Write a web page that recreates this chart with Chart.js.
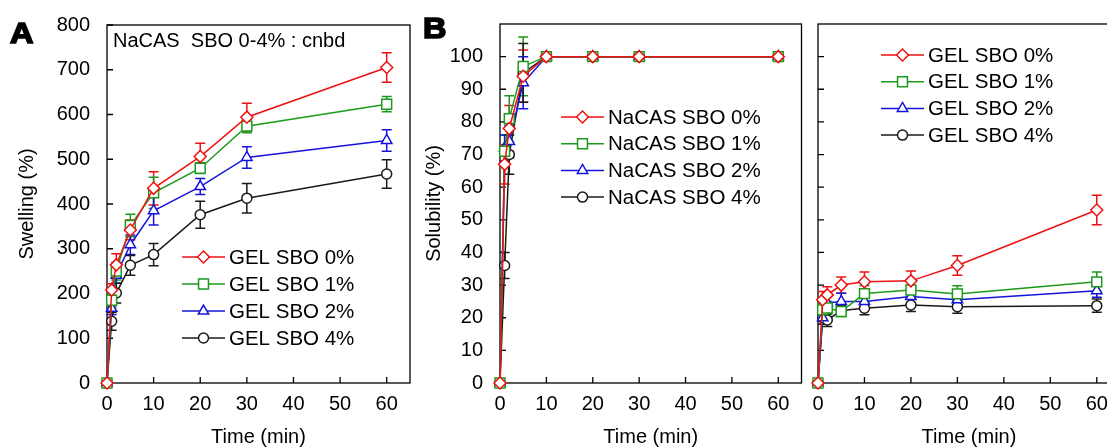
<!DOCTYPE html>
<html>
<head>
<meta charset="utf-8">
<script src="https://cdn.jsdelivr.net/npm/chart.js@4.4.0/dist/chart.umd.min.js"></script>
<style>
    html, body { margin: 0; padding: 0; background: #fff; }
    #page { position: relative; width: 1107px; height: 447px; overflow: hidden; background: #fff; font-family: 'Liberation Sans', Arial, sans-serif; }
    #page canvas { position: absolute; top: 0; }
    .panel-tag { position: absolute; font-weight: bold; font-size: 29px; line-height: 29px; color: #000; transform: scaleX(1.12); transform-origin: left top; -webkit-text-stroke: 1.6px #000; }
    .note { position: absolute; font-size: 20px; line-height: 22px; color: #000; white-space: pre; }
</style>
</head>
<body>
<div id="page">
    <canvas id="swellingChart" width="420" height="447" style="left:0"></canvas>
    <canvas id="nacasChart" width="400" height="447" style="left:410px"></canvas>
    <canvas id="gelChart" width="330" height="447" style="left:805px"></canvas>
    <div class="panel-tag" style="left:10px;top:19px">A</div>
    <div class="panel-tag" style="left:423px;top:14px">B</div>
    <div class="note" style="left:113px;top:29px">NaCAS  SBO 0-4% : cnbd</div>
</div>
<script>

// sampling times (min)
const times = [0, 1, 2, 5, 10, 20, 30, 60];

const gelLabels = ['GEL SBO 0%', 'GEL SBO 1%', 'GEL SBO 2%', 'GEL SBO 4%'];
const nacasLabels = ['NaCAS SBO 0%', 'NaCAS SBO 1%', 'NaCAS SBO 2%', 'NaCAS SBO 4%'];

// panel A - swelling of GEL films (%)
const swelling0 = [0, 208, 264, 342, 435, 506, 594, 705];
const swelling1 = [0, 185, 250, 352, 425, 480, 574, 623];
const swelling2 = [0, 167, 241, 309, 385, 439, 504, 542];
const swelling4 = [0, 138, 201, 263, 287, 376, 413, 467];
const swellingErr0 = [0, 14, 25, 22, 37, 30, 31, 33];
const swellingErr1 = [0, 15, 20, 25, 35, 12, 15, 17];
const swellingErr2 = [0, 14, 18, 22, 32, 18, 24, 24];
const swellingErr4 = [0, 20, 22, 22, 25, 30, 33, 32];

// panel B - solubility of NaCAS films (%)
const nacas0 = [0, 67, 78, 94, 100, 100, 100, 100];
const nacas1 = [0, 71, 81, 97, 100, 100, 100, 100];
const nacas2 = [0, 72, 74, 92, 100, 100, 100, 100];
const nacas4 = [0, 36, 70, 95, 100, 100, 100, 100];
const nacasErr0 = [0, 6, 7, 8, 0, 0, 0, 0];
const nacasErr1 = [0, 5, 7, 9, 0, 0, 0, 0];
const nacasErr2 = [0, 4, 5, 8, 0, 0, 0, 0];
const nacasErr4 = [0, 4, 6, 9, 0, 0, 0, 0];

// panel B (right) - solubility of GEL films (%)
const gel0 = [0, 25.5, 27, 30, 31, 31.3, 36, 53];
const gel1 = [0, 22.4, 23, 21.9, 27.4, 28.5, 27.3, 31];
const gel2 = [0, 20, 24.5, 25, 25, 26.5, 25.5, 28.3];
const gel4 = [0, 20, 19.3, 22.2, 22.9, 23.9, 23.4, 23.7];
const gelErr0 = [0, 2.5, 2.5, 2.5, 3, 3, 3, 4.5];
const gelErr1 = [0, 2, 2, 1.5, 2.5, 2.5, 2.5, 3];
const gelErr2 = [0, 2, 2, 2.5, 2, 2, 2, 2];
const gelErr4 = [0, 2, 2, 1.5, 2, 2, 2, 2];

const FONT = "'Liberation Sans', Arial, sans-serif";

const seriesStyle = [
    { color: '#ee1111', pointStyle: 'rectRot', radius: 6 },
    { color: '#1c9a1c', pointStyle: 'rect', radius: 7 },
    { color: '#1414dc', pointStyle: 'triangle', radius: 6 },
    { color: '#1a1a1a', pointStyle: 'circle', radius: 5 }
];

const charts = {
    swelling: null,
    nacas: null,
    gel: null
};


// box around the plot and inward tick marks
const framePlugin = {
    id: 'frame',
    beforeDatasetsDraw(chart) {
        const { ctx, chartArea: a, scales } = chart;
        ctx.save();
        ctx.strokeStyle = '#000';
        ctx.lineWidth = 1.3;
        ctx.strokeRect(a.left, a.top, a.right - a.left, a.bottom - a.top);
        ctx.beginPath();
        scales.x.ticks.forEach(t => {
            const px = scales.x.getPixelForValue(t.value);
            ctx.moveTo(px, a.bottom);
            ctx.lineTo(px, a.bottom - 6);
        });
        scales.y.ticks.forEach(t => {
            const py = scales.y.getPixelForValue(t.value);
            ctx.moveTo(a.left, py);
            ctx.lineTo(a.left + 6, py);
        });
        ctx.stroke();
        ctx.restore();
    }
};


// vertical error bars with caps, drawn under the markers
const errorBarPlugin = {
    id: 'errorBars',
    beforeDatasetsDraw(chart) {
        const { ctx, scales } = chart;
        ctx.save();
        ctx.lineWidth = 1.5;
        chart.data.datasets.forEach(ds => {
            if (!ds.errors) return;
            ctx.strokeStyle = ds.borderColor;
            ctx.beginPath();
            ds.data.forEach((p, i) => {
                const e = ds.errors[i];
                if (!e) return;
                const px = scales.x.getPixelForValue(p.x);
                const yTop = scales.y.getPixelForValue(p.y + e);
                const yBot = scales.y.getPixelForValue(p.y - e);
                ctx.moveTo(px, yTop);
                ctx.lineTo(px, yBot);
                ctx.moveTo(px - 5, yTop);
                ctx.lineTo(px + 5, yTop);
                ctx.moveTo(px - 5, yBot);
                ctx.lineTo(px + 5, yBot);
            });
            ctx.stroke();
        });
        ctx.restore();
    }
};


// legend drawn as line + marker + text
const lineLegendPlugin = {
    id: 'lineLegend',
    afterDraw(chart, args, opts) {
        if (!opts || opts.left === undefined) return;
        const ctx = chart.ctx;
        ctx.save();
        chart.data.datasets.forEach((ds, i) => {
            const y = opts.top + i * opts.gap;
            const x0 = opts.left;
            const x1 = opts.left + 43;
            ctx.strokeStyle = ds.borderColor;
            ctx.lineWidth = 1.5;
            ctx.beginPath();
            ctx.moveTo(x0, y);
            ctx.lineTo(x1, y);
            ctx.stroke();
            ctx.fillStyle = '#fff';
            Chart.helpers.drawPoint(ctx, {
                pointStyle: ds.pointStyle,
                radius: ds.pointRadius,
                borderWidth: 1.5,
                rotation: 0
            }, (x0 + x1) / 2, y);
            ctx.fillStyle = '#000';
            ctx.font = '20.5px ' + FONT;
            ctx.textBaseline = 'middle';
            ctx.textAlign = 'left';
            ctx.fillText(ds.label, x1 + 4, y + 1);
        });
        ctx.restore();
    }
};


function buildDatasets(labels, series, errors) {
    return series.map((values, i) => ({
        label: labels[i],
        data: values.map((v, j) => ({ x: times[j], y: v })),
        errors: errors[i],
        borderColor: seriesStyle[i].color,
        backgroundColor: seriesStyle[i].color,
        borderWidth: 1.5,
        pointStyle: seriesStyle[i].pointStyle,
        pointRadius: seriesStyle[i].radius,
        pointBorderWidth: 1.5,
        pointBorderColor: seriesStyle[i].color,
        pointBackgroundColor: '#fff',
        tension: 0,
        clip: false
    }));
}


function makeChart(canvasId, datasets, cfg) {
    const ctx = document.getElementById(canvasId);
    if (!ctx) return null;

    return new Chart(ctx, {
        type: 'line',
        data: { datasets: datasets },
        plugins: [framePlugin, errorBarPlugin, lineLegendPlugin],
        options: {
            responsive: false,
            animation: false,
            events: [],
            layout: {
                padding: { left: 0, top: cfg.padTop, right: cfg.padRight, bottom: 0 }
            },
            plugins: {
                legend: { display: false },
                tooltip: { enabled: false },
                lineLegend: cfg.legend
            },
            scales: {
                x: {
                    type: 'linear',
                    min: 0,
                    max: 65,
                    afterFit: s => {
                        s.height = 64;
                        s.paddingLeft = 0;
                        s.paddingRight = 0;
                    },
                    afterBuildTicks: s => { s.ticks = s.ticks.filter(t => t.value <= 60); },
                    border: { display: false },
                    grid: { drawOnChartArea: false, drawTicks: false },
                    ticks: {
                        stepSize: 10,
                        includeBounds: false,
                        autoSkip: false,
                        maxRotation: 0,
                        padding: 9,
                        color: '#000',
                        font: { size: 20, family: FONT }
                    },
                    title: {
                        display: true,
                        text: 'Time (min)',
                        color: '#000',
                        font: { size: 20, family: FONT, lineHeight: 1 },
                        padding: { top: 0, bottom: 0 }
                    }
                },
                y: {
                    type: 'linear',
                    min: 0,
                    max: cfg.yMax,
                    afterFit: s => {
                        s.width = cfg.yWidth;
                        s.paddingTop = 0;
                        s.paddingBottom = 0;
                    },
                    afterBuildTicks: s => { s.ticks = s.ticks.filter(t => t.value <= cfg.yLast); },
                    border: { display: false },
                    grid: { drawOnChartArea: false, drawTicks: false },
                    ticks: {
                        display: cfg.yLabels,
                        stepSize: cfg.yStep,
                        includeBounds: false,
                        autoSkip: false,
                        padding: 17,
                        color: '#000',
                        font: { size: 20, family: FONT }
                    },
                    title: {
                        display: !!cfg.yTitle,
                        text: cfg.yTitle || '',
                        color: '#000',
                        font: { size: 20, family: FONT, lineHeight: 1 },
                        padding: { top: cfg.yTitlePad, bottom: 0 }
                    }
                }
            }
        }
    });
}


function initSwellingChart() {
    const datasets = buildDatasets(gelLabels,
        [swelling0, swelling1, swelling2, swelling4],
        [swellingErr0, swellingErr1, swellingErr2, swellingErr4]);
    charts.swelling = makeChart('swellingChart', datasets, {
        padTop: 25, padRight: 10, yWidth: 107, yMax: 800, yStep: 100, yLast: 800,
        yLabels: true, yTitle: 'Swelling (%)', yTitlePad: 17.5,
        legend: { left: 182, top: 257, gap: 27 }
    });
}


function initNacasChart() {
    const datasets = buildDatasets(nacasLabels,
        [nacas0, nacas1, nacas2, nacas4],
        [nacasErr0, nacasErr1, nacasErr2, nacasErr4]);
    charts.nacas = makeChart('nacasChart', datasets, {
        padTop: 24, padRight: 7, yWidth: 90, yMax: 110, yStep: 10, yLast: 100,
        yLabels: true, yTitle: 'Solubility (%)', yTitlePad: 14.5,
        legend: { left: 151, top: 117, gap: 26.7 }
    });
}


function initGelChart() {
    const datasets = buildDatasets(gelLabels,
        [gel0, gel1, gel2, gel4],
        [gelErr0, gelErr1, gelErr2, gelErr4]);
    charts.gel = makeChart('gelChart', datasets, {
        padTop: 24, padRight: 15, yWidth: 13, yMax: 110, yStep: 10, yLast: 100,
        yLabels: false, yTitle: null, yTitlePad: 0,
        legend: { left: 76, top: 55, gap: 26.7 }
    });
}


initSwellingChart();
initNacasChart();
initGelChart();
</script>
</body>
</html>
